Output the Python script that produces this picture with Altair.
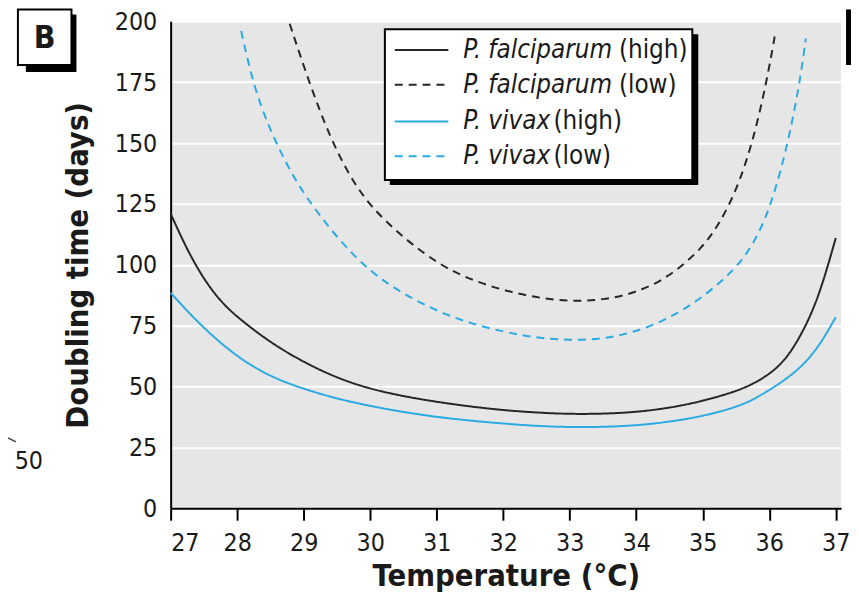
import altair as alt
import pandas as pd

# ---- data ----
pf_high_t = [27.0, 27.25, 27.5, 27.75, 28.0, 28.5, 29.0, 29.5, 30.0, 30.5, 31.0, 31.5, 32.0, 32.5, 33.0, 33.5, 34.0, 34.5, 35.0, 35.5, 35.75, 36.0, 36.25, 36.5, 36.75, 37.0]
pf_high_v = [121, 106, 94, 85, 78.5, 68, 60, 53.5, 49, 46, 43.7, 41.8, 40.3, 39.3, 38.7, 38.8, 39.5, 41.2, 44, 48, 51, 55, 61, 72, 87, 111]

pv_high_t = [27.0, 27.45, 28.0, 28.5, 29.0, 29.5, 30.0, 30.5, 31.0, 31.5, 32.0, 32.5, 33.0, 33.5, 34.0, 34.5, 35.0, 35.5, 35.75, 36.0, 36.25, 36.5, 36.75, 37.0]
pv_high_v = [88.5, 75, 62, 54, 49, 45, 42, 39.5, 37.5, 36, 34.8, 33.8, 33.3, 33.4, 34, 35.5, 37.8, 41.5, 44.5, 48.5, 53, 58.5, 66.5, 78.5]

pf_low_t = [28.79, 29.08, 29.4, 29.7, 30.0, 30.5, 31.04, 31.5, 32.0, 32.5, 33.0, 33.5, 34.0, 34.5, 35.0, 35.25, 35.5, 35.75, 35.96, 36.09]
pf_low_v = [199, 175, 152, 136, 124, 111, 100, 94, 89.5, 86.5, 85, 85.5, 88.5, 95, 107, 117, 130, 150, 175, 195]

pv_low_t = [28.06, 28.25, 28.5, 28.75, 29.0, 29.5, 30.0, 30.5, 31.0, 31.5, 32.0, 32.5, 33.0, 33.5, 34.0, 34.5, 35.0, 35.5, 35.75, 36.0, 36.25, 36.45, 36.55]
pv_low_v = [196, 173, 155, 141, 129, 111, 97, 88, 81, 76, 72.5, 70, 69, 69.5, 72.5, 78, 86.5, 98.5, 108, 122, 146, 173, 193]

series_names = ["Pf high", "Pf low", "Pv high", "Pv low"]
species = ["P. falciparum", "P. falciparum", "P. vivax", "P. vivax"]
levels = ["(high)", "(low)", "(high)", "(low)"]
x_ticks = [27, 28, 29, 30, 31, 32, 33, 34, 35, 36, 37]
y_ticks = [0, 25, 50, 75, 100, 125, 150, 175, 200]

# ---- styles ----
BLACK = "#262626"
BLUE = "#2aaae2"
colors = [BLACK, BLACK, BLUE, BLUE]
dashes = [[1, 0], [8, 6], [1, 0], [8, 6]]
FONT = "DejaVu Sans Condensed, Liberation Sans Narrow, sans-serif"

frames = []
for name, t, v in zip(series_names,
                      [pf_high_t, pf_low_t, pv_high_t, pv_low_t],
                      [pf_high_v, pf_low_v, pv_high_v, pv_low_v]):
    frames.append(pd.DataFrame({"series": name, "temp": t, "days": v}))
df = pd.concat(frames, ignore_index=True)

W, H = 676, 491
TOP = 11  # padding above the plot area

xscale = alt.Scale(domain=[27, 37.08], nice=False, zero=False)
yscale = alt.Scale(domain=[0, 200], nice=False)

lines = alt.Chart(df).mark_line(strokeWidth=2, interpolate="basis").encode(
    x=alt.X("temp:Q", scale=xscale,
            axis=alt.Axis(values=x_ticks, title="Temperature (°C)", grid=False,
                          tickSize=12, tickWidth=2, tickColor="black",
                          domainColor="black", domainWidth=2,
                          labelFont=FONT, labelFontSize=25, labelColor="#1a1a1a",
                          labelPadding=11,
                          titleFont=FONT, titleFontSize=31, titleFontWeight="bold",
                          titleColor="#1a1a1a", titlePadding=6)),
    y=alt.Y("days:Q", scale=yscale,
            axis=alt.Axis(values=y_ticks, title="Doubling time (days)",
                          grid=True, gridColor="white", gridWidth=2,
                          ticks=False, tickSize=0,
                          domainColor="black", domainWidth=2,
                          labelFont=FONT, labelFontSize=25, labelColor="#1a1a1a",
                          labelPadding=14,
                          titleFont=FONT, titleFontSize=31, titleFontWeight="bold",
                          titleColor="#1a1a1a", titlePadding=20)),
    color=alt.Color("series:N", scale=alt.Scale(domain=series_names, range=colors), legend=None),
    strokeDash=alt.StrokeDash("series:N", scale=alt.Scale(domain=series_names, range=dashes), legend=None),
)

one = pd.DataFrame({"k": [0]})
layers = [lines]
dy = -2  # shift of overlay items relative to the plot origin

# legend box with drop shadow
layers.append(alt.Chart(one).mark_rect(fill="black").encode(
    x=alt.value(221), x2=alt.value(532), y=alt.value(15 + dy), y2=alt.value(167 + dy)))
layers.append(alt.Chart(one).mark_rect(fill="white", stroke="black", strokeWidth=2).encode(
    x=alt.value(216), x2=alt.value(526), y=alt.value(10 + dy), y2=alt.value(162 + dy)))

row_y = [31, 66, 103, 138]
it_x0 = 295
lvl_x = {"P. falciparum": 452, "P. vivax": 386}
for i in range(4):
    layers.append(alt.Chart(one).mark_rule(color=colors[i], strokeWidth=2,
                                           strokeDash=dashes[i]).encode(
        x=alt.value(226), x2=alt.value(280), y=alt.value(row_y[i] + dy)))
    layers.append(alt.Chart(one).mark_text(align="left", baseline="middle", font=FONT,
                                           fontSize=26, fontStyle="italic", color="#1a1a1a").encode(
        x=alt.value(it_x0), y=alt.value(row_y[i] + dy), text=alt.value(species[i])))
    layers.append(alt.Chart(one).mark_text(align="left", baseline="middle", font=FONT,
                                           fontSize=26, color="#1a1a1a").encode(
        x=alt.value(lvl_x[species[i]]), y=alt.value(row_y[i] + dy), text=alt.value(levels[i])))

# panel label "B"
layers.append(alt.Chart(one).mark_rect(fill="black").encode(
    x=alt.value(-146), x2=alt.value(-95), y=alt.value(-5 + dy), y2=alt.value(53 + dy)))
layers.append(alt.Chart(one).mark_rect(fill="white", stroke="black", strokeWidth=2).encode(
    x=alt.value(-154), x2=alt.value(-100), y=alt.value(-10 + dy), y2=alt.value(46 + dy)))
layers.append(alt.Chart(one).mark_text(align="center", baseline="middle", font=FONT,
                                       fontSize=32, fontWeight="bold", color="#1a1a1a").encode(
    x=alt.value(-127), y=alt.value(19 + dy), text=alt.value("B")))

# stray fragment on the left margin
layers.append(alt.Chart(one).mark_text(align="center", baseline="middle", font=FONT,
                                       fontSize=25, color="#1a1a1a").encode(
    x=alt.value(-143), y=alt.value(445 + dy), text=alt.value("50")))
layers.append(alt.Chart(one).mark_rule(color="#444", strokeWidth=1.5).encode(
    x=alt.value(-164), x2=alt.value(-156), y=alt.value(422 + dy), y2=alt.value(426 + dy)))

# edge of the neighbouring panel
layers.append(alt.Chart(one).mark_rect(fill="black").encode(
    x=alt.value(681), x2=alt.value(686), y=alt.value(-10 + dy), y2=alt.value(46 + dy)))

chart = alt.layer(*layers).properties(
    width=W, height=H,
    padding={"left": 164, "top": TOP, "right": 10, "bottom": 90},
    autosize=alt.AutoSizeParams(type="none"),
).configure_view(fill="#e6e6e6", stroke=None)

chart.save("out.html", embed_options={"renderer": "svg", "actions": False})
